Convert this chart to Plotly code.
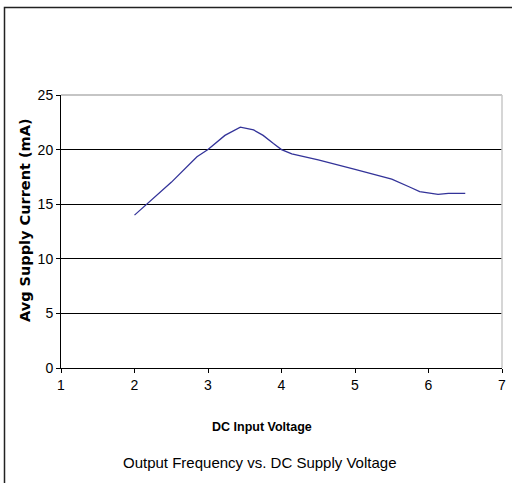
import plotly.graph_objects as go

voltage = [2.0, 2.5, 2.85, 3.0, 3.23, 3.44, 3.62, 3.75, 3.89, 4.0, 4.14, 4.25, 4.5, 5.0, 5.5, 5.75, 5.88, 6.13, 6.27, 6.5]
current = [14.0, 17.0, 19.35, 20.0, 21.3, 22.05, 21.8, 21.3, 20.55, 20.0, 19.6, 19.45, 19.05, 18.2, 17.3, 16.55, 16.15, 15.9, 16.0, 16.0]

x_ticks = [1, 2, 3, 4, 5, 6, 7]
y_ticks = [0, 5, 10, 15, 20, 25]

title_text = "Output Frequency vs. DC Supply Voltage"
x_title = "DC Input Voltage"
y_title = "Avg Supply Current (mA)"

W, H = 512, 483
L, R, T, B = 61, 10, 95, 115
ph = H - T - B
pw = W - L - R

def px_x(px):
    return (px - L) / pw

def px_y(py):
    return (H - B - py) / ph

sans = "Liberation Sans, Arial, sans-serif"

fig = go.Figure()
fig.add_trace(go.Scatter(
    x=voltage, y=current, mode="lines",
    line=dict(color="#333399", width=1.3),
    showlegend=False, hoverinfo="skip",
))

fig.update_layout(
    width=W, height=H,
    margin=dict(l=L, r=R, t=T, b=B, pad=0, autoexpand=False),
    paper_bgcolor="white", plot_bgcolor="white",
    xaxis=dict(
        range=[1, 7], tickvals=x_ticks, ticktext=[str(v) for v in x_ticks],
        showgrid=False, zeroline=False,
        showline=True, linecolor="#000000", linewidth=1,
        ticks="outside", ticklen=4, tickcolor="#000000", tickwidth=1,
        tickfont=dict(family=sans, size=14, color="#000000"),
        fixedrange=True,
    ),
    yaxis=dict(
        range=[0, 25], tickvals=y_ticks, ticktext=[str(v) for v in y_ticks],
        showgrid=True, gridcolor="#000000", gridwidth=1, zeroline=False,
        showline=True, linecolor="#000000", linewidth=1,
        ticks="outside", ticklen=4, tickcolor="#000000", tickwidth=1,
        tickfont=dict(family=sans, size=14, color="#000000"),
        fixedrange=True,
    ),
    shapes=[
        dict(type="line", xref="paper", yref="paper", x0=0, x1=1, y0=1, y1=1,
             line=dict(color="#8c8c8c", width=1.2), layer="above"),
        dict(type="line", xref="paper", yref="paper", x0=1, x1=1, y0=0, y1=1,
             line=dict(color="#c8c8c8", width=1.5), layer="above"),
        dict(type="rect", xref="paper", yref="paper",
             x0=px_x(4.5), x1=px_x(530), y0=px_y(7.5), y1=px_y(520),
             line=dict(color="#222222", width=1.5), layer="above"),
    ],
    annotations=[
        dict(text=x_title, xref="paper", yref="paper", x=px_x(262), y=px_y(427),
             showarrow=False, xanchor="center", yanchor="middle",
             font=dict(family=sans, size=12.5, color="#000000", weight="bold")),
        dict(text=title_text, xref="paper", yref="paper", x=px_x(259), y=px_y(462),
             showarrow=False, xanchor="center", yanchor="middle",
             font=dict(family=sans, size=15, color="#000000")),
        dict(text=y_title, xref="paper", yref="paper", x=px_x(25), y=px_y(220),
             showarrow=False, xanchor="center", yanchor="middle", textangle=-90,
             font=dict(family="DejaVu Sans, sans-serif", size=14.5, color="#000000", weight="bold")),
    ],
)

fig.write_html("out.html", config={"displayModeBar": False},
               post_script="document.body.style.margin='0';document.body.style.overflow='hidden';")
